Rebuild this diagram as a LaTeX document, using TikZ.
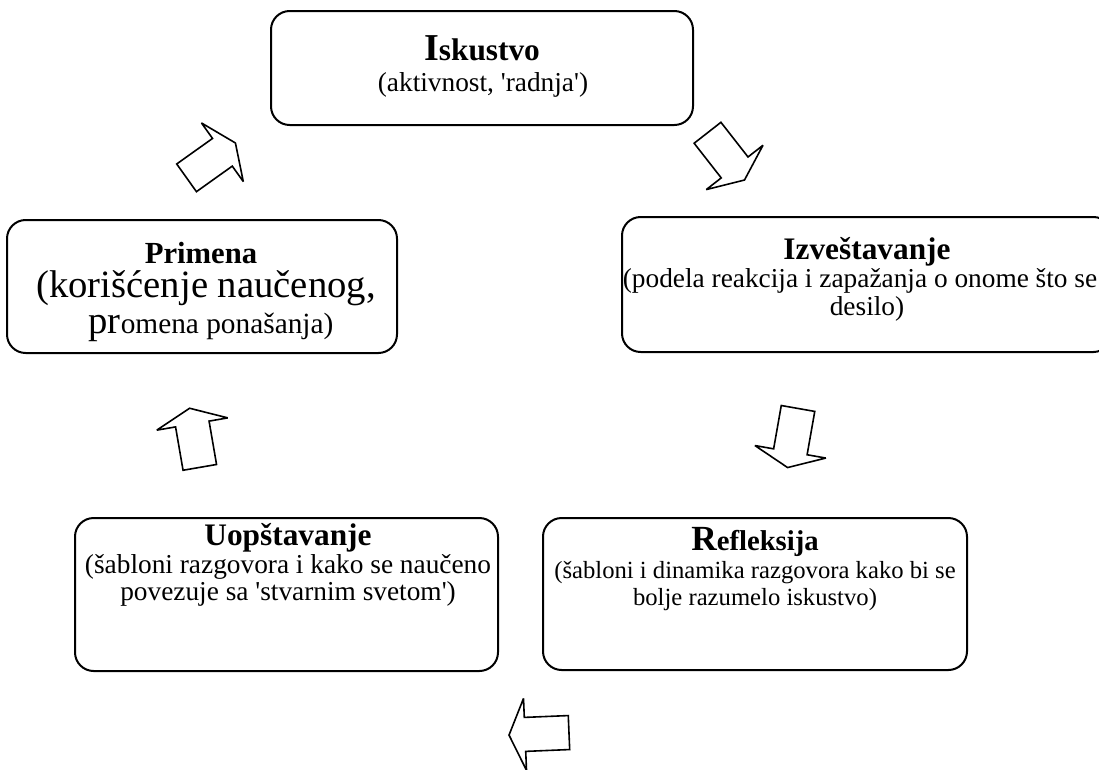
\documentclass[tikz,border=0pt]{standalone}
\usepackage{fontspec}
\setmainfont{Liberation Serif}
\usetikzlibrary{positioning}

\tikzset{
	every node/.style={
		font=\fontsize{20.5}{24}\selectfont
	},
	stage/.style={
		shape=rectangle,
		draw,
		line width=1.5pt,
		rounded corners=14pt,
		inner sep=0pt
	},
	stage title/.style={
		anchor=base,
		font=\fontsize{23.5}{28}\selectfont\bfseries
	},
	stage line/.style={
		anchor=base
	},
	block arrow/.style={
		draw,
		line width=1.2pt,
		miter limit=4
	}
}

\newcommand{\bigfirst}[1]{{\fontsize{28.5}{30}\selectfont #1}}
\newcommand{\q}{\textquotesingle}

\begin{document}
\begin{tikzpicture}[x=0.75pt, y=-0.75pt]
	
	\useasboundingbox (0,0) rectangle (1099,769);
	\clip (0,0) rectangle (1099,769);
	
	% boxes
	\node[stage, minimum width=316.5pt, minimum height=85.5pt] (iskustvo) at (482,68) {};
	\node[stage, minimum width=367.5pt, minimum height=101.25pt] (izvestavanje) at (867,284.5) {};
	\node[stage, minimum width=292.5pt, minimum height=99.75pt] (primena) at (202,286.5) {};
	\node[stage, minimum width=317.25pt, minimum height=114.75pt] (uopstavanje) at (286.5,594.5) {};
	\node[stage, minimum width=318pt, minimum height=114pt] (refleksija) at (755,594) {};
	
	% texts
	\node[stage title] (iskustvo-t) at (482,60) {\bigfirst{I}skustvo};
	\node[stage line] (iskustvo-1) at (483,91) {(aktivnost, \q radnja\q)};
	
	\node[stage title] (izvestavanje-t) at (867,259) {Izveštavanje};
	\node[stage line] (izvestavanje-1) at (860,287) {(podela reakcija i zapažanja o onome što se};
	\node[stage line] (izvestavanje-2) at (867,315) {desilo)};
	
	\node[stage title, font=\fontsize{23}{28}\selectfont\bfseries] (primena-t) at (201,263) {Primena};
	\node[stage line, font=\fontsize{29}{32}\selectfont] (primena-1) at (206,297) {(korišćenje naučenog,};
	\node[stage line, font=\fontsize{22}{26}\selectfont] (primena-2) at (211,333) {{\fontsize{29}{32}\selectfont pr}omena ponašanja)};
	
	\node[stage title] (uopstavanje-t) at (288,545) {Uopštavanje};
	\node[stage line] (uopstavanje-1) at (288,573) {(šabloni razgovora i kako se naučeno};
	\node[stage line] (uopstavanje-2) at (288,600) {povezuje sa \q stvarnim svetom\q)};
	
	\node[stage title, font=\fontsize{21.5}{28}\selectfont\bfseries] (refleksija-t) at (755,550) {{\fontsize{26.5}{30}\selectfont R}efleksija};
	\node[stage line, font=\fontsize{18.5}{22}\selectfont] (refleksija-1) at (755,578) {(šabloni i dinamika razgovora kako bi se};
	\node[stage line, font=\fontsize{18.5}{22}\selectfont] (refleksija-2) at (755,605) {bolje razumelo iskustvo)};
	
	% block arrows between the stages
	\foreach \cx/\cy/\ang in {211/160.4/35.5, 726/156.4/-52, 792.8/438/-100, 194.7/437.8/99.8, 539/733.8/182.4} {
		\draw[block arrow, shift={(\cx,\cy)}, rotate=\ang]
			(-30,-17) -- (14,-17) -- (14,-36) -- (30,0) -- (14,36) -- (14,17) -- (-30,17) -- cycle;
	}
	
\end{tikzpicture}
\end{document}
